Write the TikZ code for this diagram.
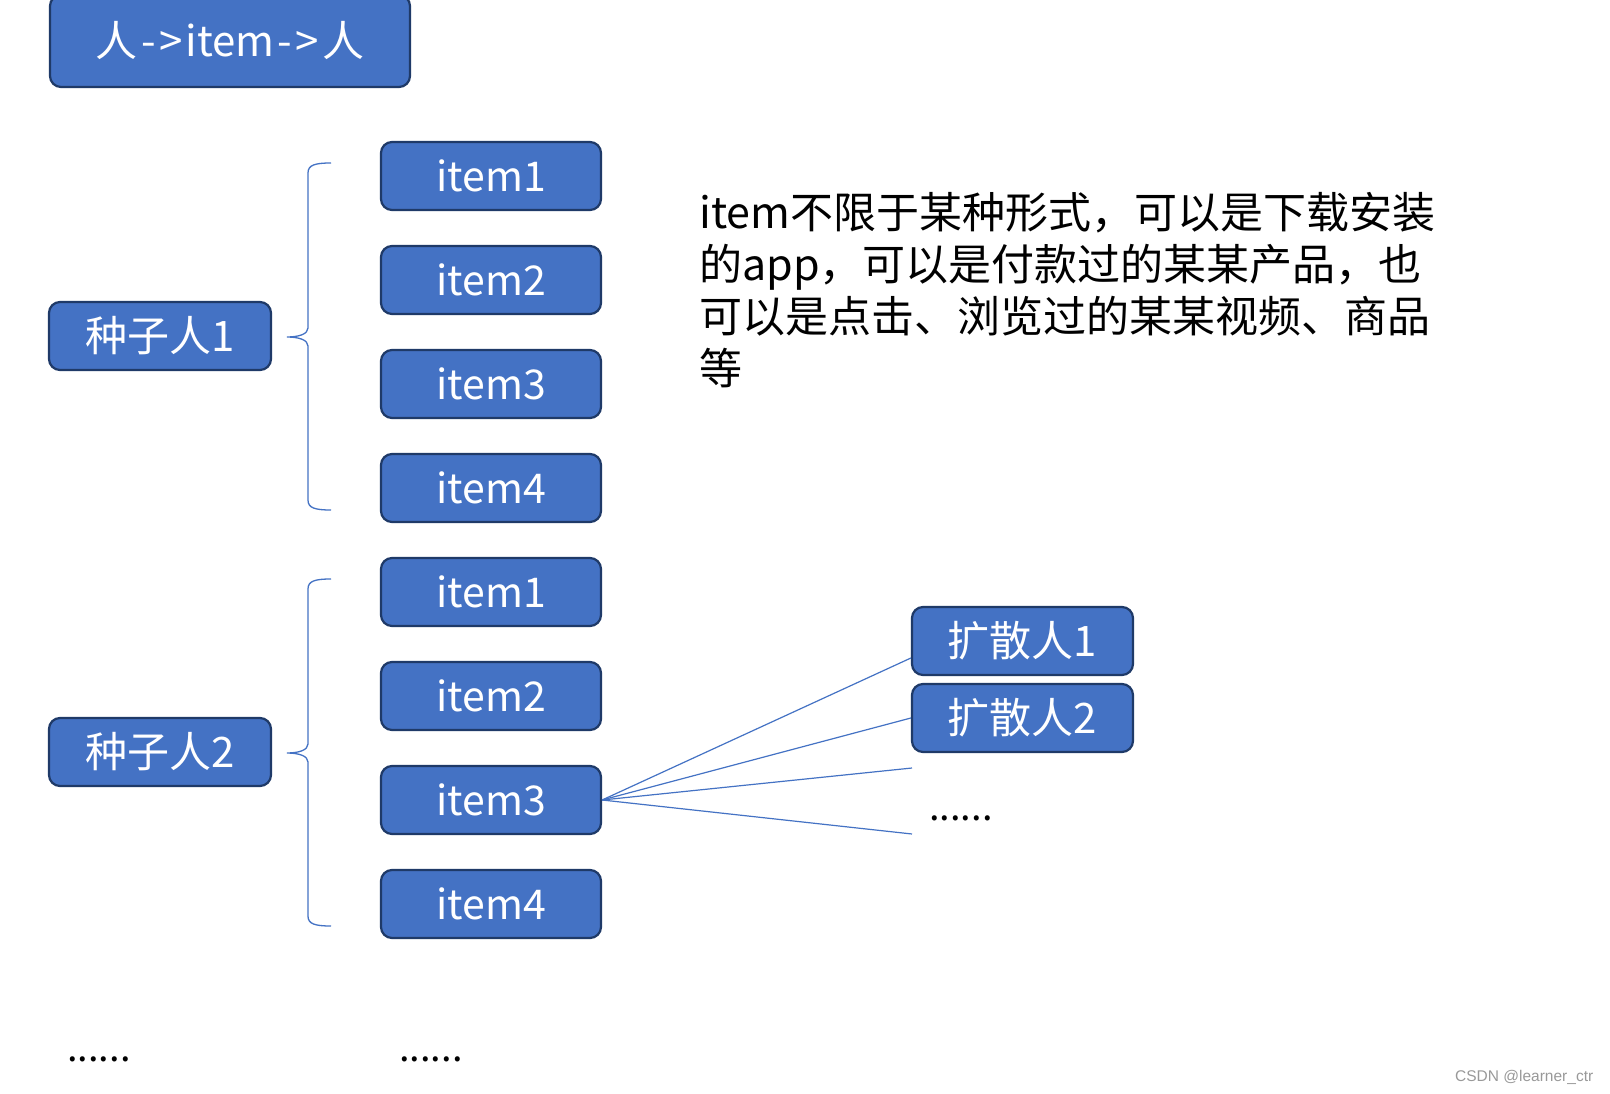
\documentclass[tikz,border=0pt]{standalone}
\usepackage{fontspec}
\setmainfont{Noto Sans CJK SC}
\newfontfamily\wmfont{Liberation Sans}
\definecolor{boxfill}{HTML}{4472C4}
\definecolor{boxedge}{HTML}{1F3A68}
\definecolor{linkblue}{HTML}{4472C4}
\newcommand\seedbrace[3]{%
  \draw[bracelin] (331,#1) .. controls (315,#1) and (308,#1+2) .. (308,#1+10)
    -- (308,#2-9) .. controls (308,#2-3) and (299,#2) .. (287,#2)
    .. controls (299,#2) and (308,#2+3) .. (308,#2+9)
    -- (308,#3-10) .. controls (308,#3-2) and (315,#3) .. (331,#3);}
\begin{document}
\begin{tikzpicture}[x=1pt,y=-1pt,
  blk/.style={draw=boxedge, line width=2.2pt, fill=boxfill, rounded corners=11pt,
    text=white, inner sep=0pt, font=\fontsize{42}{50}\selectfont},
  itembox/.style={blk, minimum width=220pt, minimum height=68pt, font=\fontsize{41}{50}\selectfont},
  seedbox/.style={blk, minimum width=222pt, minimum height=68pt},
  spreadbox/.style={blk, minimum width=221pt, minimum height=68pt},
  bracelin/.style={draw=linkblue, line width=1.3pt},
  fan/.style={draw=linkblue, line width=1.2pt},
  para/.style={anchor=base west, inner sep=0pt, font=\fontsize{43}{52}\selectfont},
  dots/.style={anchor=base west, inner sep=0pt, font=\fontsize{38}{44}\selectfont}]
\fill[white] (0,0) rectangle (1610,1094);
\useasboundingbox (0,0) rectangle (1610,1094);

% title
\node[blk, minimum width=360pt, minimum height=92pt] (title) at (230,41)
  {人\kern3.5pt-\kern3.5pt>\kern3pt item\kern3.5pt-\kern3.5pt>\kern3pt 人};

% seeds
\node[seedbox] (s1) at (160,336) {种子人1};
\node[seedbox] (s2) at (160,752) {种子人2};

% items group 1
\node[itembox] (a1) at (491,176) {item1};
\node[itembox] (a2) at (491,280) {item2};
\node[itembox] (a3) at (491,384) {item3};
\node[itembox] (a4) at (491,488) {item4};
% items group 2
\node[itembox] (b1) at (491,592) {item1};
\node[itembox] (b2) at (491,696) {item2};
\node[itembox] (b3) at (491,800) {item3};
\node[itembox] (b4) at (491,904) {item4};

% braces
\seedbrace{163}{337}{510}
\seedbrace{579}{753}{926}

% spread people
\node[spreadbox] (k1) at (1022.5,641) {扩散人1};
\node[spreadbox] (k2) at (1022.5,718) {扩散人2};
\coordinate (e3) at (912,768);
\coordinate (e4) at (912,834);
\draw[fan] (b3.east) -- ([yshift=-17pt]k1.west);
\draw[fan] (b3.east) -- (k2.west);
\draw[fan] (b3.east) -- (e3);
\draw[fan] (b3.east) -- (e4);
\node[dots] (d1) at (929,820) {......};

% paragraph
\node[para] (p1) at (699,229) {item不限于某种形式，可以是下载安装};
\node[para] (p2) at (699,280.5) {的app，可以是付款过的某某产品，也};
\node[para] (p3) at (699,332) {可以是点击、浏览过的某某视频、商品};
\node[para] (p4) at (699,384) {等};

% bottom dots
\node[dots] (d2) at (67,1061) {......};
\node[dots] (d3) at (399,1061) {......};

% watermark
\node[anchor=base west, inner sep=0pt, text=black!40, font=\wmfont\fontsize{15.5}{18}\selectfont] (wm) at (1455,1081) {CSDN @learner\_ctr};
\end{tikzpicture}
\end{document}
